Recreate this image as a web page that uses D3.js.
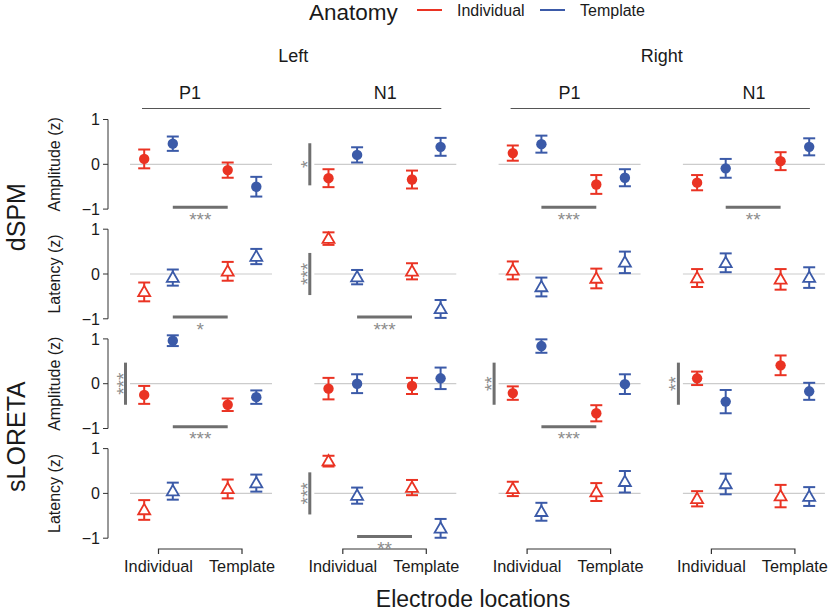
<!DOCTYPE html>
<html>
<head>
<meta charset="utf-8">
<script src="https://cdn.jsdelivr.net/npm/d3@7"></script>
<style>
  body { margin: 0; background: #fff; }
  svg { display: block; font-family: "Liberation Sans", Arial, sans-serif; }
</style>
</head>
<body>
<div id="chart"></div>
<script>
// facets
const methods = ["dSPM", "sLORETA"];
const measures = ["Amplitude (z)", "Latency (z)"];
const sides = ["Left", "Right"];
const components = ["P1", "N1"];
const locations = ["Individual", "Template"];
const anatomies = ["Individual", "Template"];
const yTicks = [1, 0, -1];

// values per row (dSPM amp, dSPM lat, sLORETA amp, sLORETA lat),
// per column (Left P1, Left N1, Right P1, Right N1),
// order: [loc Individual: anat Ind, anat Tmpl, loc Template: anat Ind, anat Tmpl]
const means = [
  [[0.12, 0.46, -0.13, -0.50], [-0.31, 0.21, -0.34, 0.39], [0.25, 0.45, -0.45, -0.30], [-0.41, -0.09, 0.07, 0.39]],
  [[-0.40, -0.08, 0.06, 0.39], [0.79, -0.07, 0.06, -0.78], [0.08, -0.29, -0.10, 0.26], [-0.09, 0.25, -0.12, -0.08]],
  [[-0.25, 0.96, -0.47, -0.30], [-0.11, 0.00, -0.05, 0.12], [-0.21, 0.84, -0.66, -0.01], [0.12, -0.40, 0.41, -0.17]],
  [[-0.37, 0.05, 0.10, 0.23], [0.72, -0.05, 0.13, -0.78], [0.10, -0.41, 0.03, 0.26], [-0.12, 0.21, -0.06, -0.07]]
];
const errors = [
  [[0.21, 0.16, 0.17, 0.22], [0.20, 0.17, 0.20, 0.20], [0.17, 0.19, 0.21, 0.19], [0.17, 0.21, 0.20, 0.19]],
  [[0.21, 0.18, 0.21, 0.17], [0.14, 0.16, 0.18, 0.20], [0.20, 0.21, 0.22, 0.24], [0.20, 0.21, 0.23, 0.23]],
  [[0.20, 0.12, 0.14, 0.15], [0.24, 0.21, 0.18, 0.24], [0.15, 0.15, 0.18, 0.22], [0.15, 0.26, 0.22, 0.19]],
  [[0.22, 0.19, 0.21, 0.19], [0.12, 0.18, 0.17, 0.21], [0.16, 0.20, 0.20, 0.24], [0.17, 0.23, 0.25, 0.21]]
];

// significance: horizontal = location effect, vertical = anatomy effect
const hSig = [
  [0, 0, "***"], [0, 2, "***"], [0, 3, "**"],
  [1, 0, "*"], [1, 1, "***"],
  [2, 0, "***"], [2, 2, "***"],
  [3, 1, "**"]
];
const vSig = [
  [0, 1, "*"], [1, 1, "***"],
  [2, 0, "***"], [2, 2, "**"], [2, 3, "**"],
  [3, 1, "***"]
];

const W = 829, H = 611;
const colors = { Individual: "#ea3323", Template: "#3b5aa8" };
const sigColor = "#6f6f6f", starColor = "#8c8c8c";
const ink = "#1a1a1a";

const svg = d3.select("#chart").append("svg")
  .attr("width", W).attr("height", H)
  .attr("viewBox", [0, 0, W, H]);

const panelW = 142, colStep = 184.3, colStart = 130;
const rowStep = 109.7, zeroStart = 164.3, unit = 44.8;
const dodge = 14.3;

const colX = (c) => colStart + c * colStep;
const xGroup = (c) => d3.scalePoint().domain(locations)
  .range([colX(c) + 28.5, colX(c) + 112]);
const yRow = (r) => d3.scaleLinear().domain([-1, 1])
  .range([zeroStart + r * rowStep + unit, zeroStart + r * rowStep - unit]);

const triangle = d3.symbol().type(d3.symbolTriangle).size(62);

for (let r = 0; r < 4; r++) {
  const y = yRow(r);
  for (let c = 0; c < 4; c++) {
    const x = xGroup(c);
    const g = svg.append("g");

    g.append("line")
      .attr("x1", colX(c)).attr("x2", colX(c) + panelW)
      .attr("y1", y(0)).attr("y2", y(0))
      .attr("stroke", "#cccccc").attr("stroke-width", 1.2);

    const pts = [];
    locations.forEach((loc, li) => anatomies.forEach((an, ai) => {
      const k = li * 2 + ai;
      pts.push({
        loc, an,
        cx: x(loc) + (ai === 0 ? -dodge : dodge),
        m: means[r][c][k], e: errors[r][c][k]
      });
    }));

    const eb = g.selectAll(".eb").data(pts).join("g")
      .attr("stroke", (d) => colors[d.an]).attr("stroke-width", 2);
    eb.append("line")
      .attr("x1", (d) => d.cx).attr("x2", (d) => d.cx)
      .attr("y1", (d) => y(d.m + d.e)).attr("y2", (d) => y(d.m - d.e));
    [1, -1].forEach((s) => eb.append("line")
      .attr("x1", (d) => d.cx - 6).attr("x2", (d) => d.cx + 6)
      .attr("y1", (d) => y(d.m + s * d.e)).attr("y2", (d) => y(d.m + s * d.e)));

    if (r % 2 === 0) {
      g.selectAll("circle").data(pts).join("circle")
        .attr("cx", (d) => d.cx).attr("cy", (d) => y(d.m)).attr("r", 5.2)
        .attr("fill", (d) => colors[d.an]);
    } else {
      g.selectAll(".tri").data(pts).join("path")
        .attr("transform", (d) => `translate(${d.cx},${y(d.m) + 0.8})`)
        .attr("d", triangle)
        .attr("fill", "#fff").attr("stroke", (d) => colors[d.an]).attr("stroke-width", 1.8);
    }
  }

  // y axis
  const ax = svg.append("g");
  ax.append("line").attr("x1", 108).attr("x2", 108)
    .attr("y1", y(1)).attr("y2", y(-1)).attr("stroke", "#333").attr("stroke-width", 1);
  yTicks.forEach((t) => {
    ax.append("line").attr("x1", 103).attr("x2", 108)
      .attr("y1", y(t)).attr("y2", y(t)).attr("stroke", "#333");
    ax.append("text").attr("x", 100).attr("y", y(t)).attr("dy", "0.36em")
      .attr("text-anchor", "end").attr("font-size", 16).attr("fill", ink)
      .text(t < 0 ? "\u2212" + Math.abs(t) : t);
  });
  svg.append("text")
    .attr("transform", `translate(60,${y(0)}) rotate(-90)`)
    .attr("text-anchor", "middle").attr("font-size", 16).attr("fill", ink)
    .text(measures[r % 2]);
}

// row titles
methods.forEach((m, i) => {
  svg.append("text")
    .attr("transform", `translate(25,${(yRow(i * 2)(0) + yRow(i * 2 + 1)(0)) / 2 - 2}) rotate(-90)`)
    .attr("text-anchor", "middle").attr("font-size", 25).attr("fill", ink)
    .text(m);
});

// significance bars
hSig.forEach(([r, c, lab]) => {
  const x = xGroup(c), y = yRow(r);
  const x1 = x("Individual") + dodge, x2 = x("Template") - dodge;
  svg.append("line").attr("x1", x1).attr("x2", x2)
    .attr("y1", y(-0.96)).attr("y2", y(-0.96))
    .attr("stroke", sigColor).attr("stroke-width", 3);
  svg.append("text").attr("x", (x1 + x2) / 2).attr("y", y(-0.96) + 18.5)
    .attr("text-anchor", "middle").attr("font-size", 19).attr("fill", starColor)
    .text(lab);
});
vSig.forEach(([r, c, lab]) => {
  const y = yRow(r), bx = colX(c) - 4.5;
  svg.append("line").attr("x1", bx).attr("x2", bx)
    .attr("y1", y(0.47)).attr("y2", y(-0.47))
    .attr("stroke", sigColor).attr("stroke-width", 3);
  svg.append("text")
    .attr("transform", `translate(${bx + 4},${y(0)}) rotate(-90)`)
    .attr("text-anchor", "middle").attr("font-size", 19).attr("fill", starColor)
    .text(lab);
});

// facet strips
sides.forEach((s, si) => {
  const c0 = si * 2, c1 = si * 2 + 1;
  svg.append("line")
    .attr("x1", colX(c0) + 12).attr("x2", colX(c1) + 127)
    .attr("y1", 108.5).attr("y2", 108.5)
    .attr("stroke", "#555").attr("stroke-width", 1.2);
  svg.append("text")
    .attr("x", (colX(c0) + colX(c1) + panelW) / 2).attr("y", 62)
    .attr("text-anchor", "middle").attr("font-size", 18).attr("fill", ink)
    .text(s);
  components.forEach((p, pi) => {
    svg.append("text")
      .attr("x", colX(c0 + pi) + panelW / 2 - (si === 0 && pi === 0 ? 11 : 0)).attr("y", 99)
      .attr("text-anchor", "middle").attr("font-size", 18).attr("fill", ink)
      .text(p);
  });
});

// bottom bracket axes
for (let c = 0; c < 4; c++) {
  const x = xGroup(c);
  const xa = x("Individual"), xb = x("Template");
  svg.append("path")
    .attr("d", `M${xa},554V549H${xb}V554`)
    .attr("fill", "none").attr("stroke", "#333").attr("stroke-width", 1.2);
  locations.forEach((l) => {
    svg.append("text").attr("x", x(l)).attr("y", 572)
      .attr("text-anchor", "middle").attr("font-size", 16.3).attr("fill", ink)
      .text(l);
  });
}
svg.append("text").attr("x", 473).attr("y", 607)
  .attr("text-anchor", "middle").attr("font-size", 23).attr("fill", ink)
  .text("Electrode locations");

// legend
const lg = svg.append("g");
lg.append("text").attr("x", 309).attr("y", 20).attr("font-size", 22.5).attr("fill", ink)
  .text("Anatomy");
const legX = [417, 540];
anatomies.forEach((a, i) => {
  lg.append("line").attr("x1", legX[i]).attr("x2", legX[i] + 25)
    .attr("y1", 10).attr("y2", 10)
    .attr("stroke", colors[a]).attr("stroke-width", 2);
  lg.append("text").attr("x", legX[i] + 40).attr("y", 16)
    .attr("font-size", 16).attr("fill", ink).text(a);
});
</script>
</body>
</html>
